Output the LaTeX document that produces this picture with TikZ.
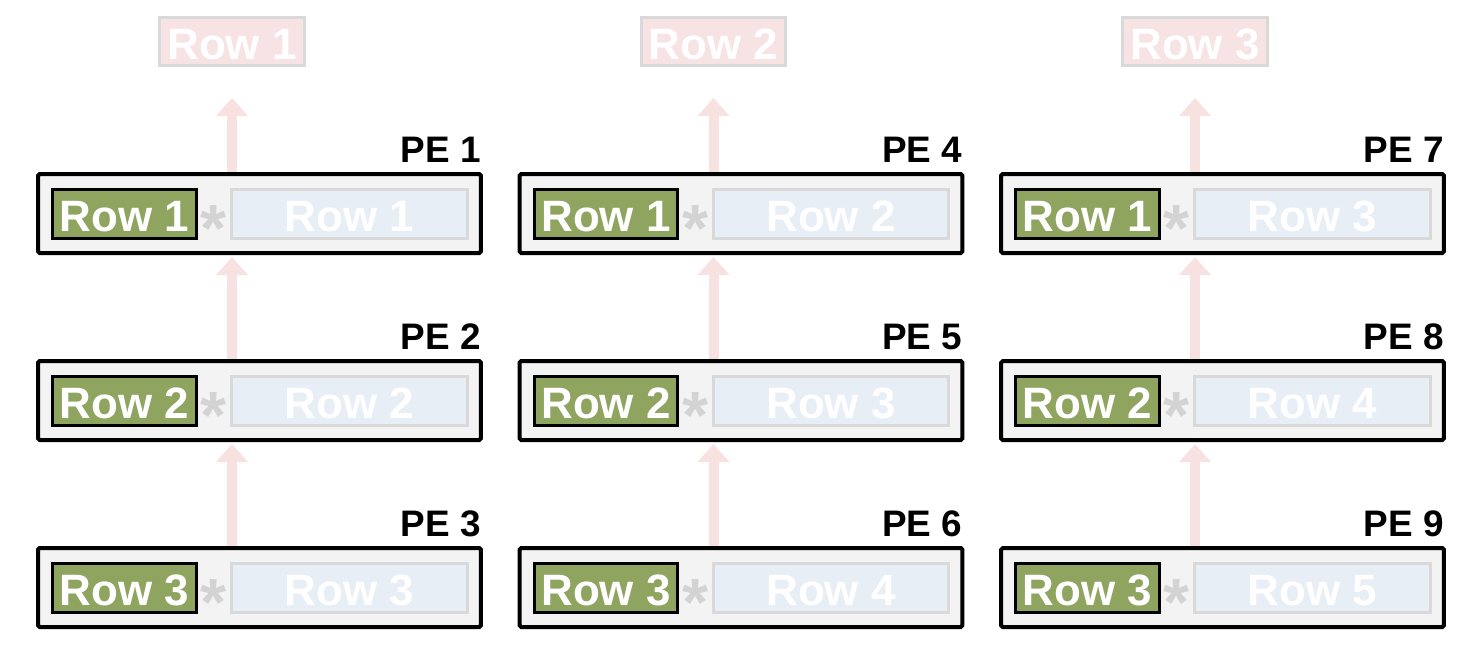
\documentclass[tikz,border=0pt]{standalone}
\usepackage{fontspec}
\setmainfont{Liberation Sans}
\usetikzlibrary{calc,arrows.meta}
\definecolor{pegray}{HTML}{F3F3F3}
\definecolor{rowgreen}{HTML}{8EA45F}
\definecolor{rowblue}{HTML}{E7EEF6}
\definecolor{rowred}{HTML}{F7E3E3}
\definecolor{edge}{HTML}{D9D9D9}
\definecolor{flow}{HTML}{F8E1E1}
\definecolor{star}{HTML}{D3D3D3}
\tikzset{
  pe/.style={draw=black, fill=pegray, line width=0.08cm, rounded corners=1pt,
    minimum width=8.86cm, minimum height=1.58cm, inner sep=0pt},
  rowtxt/.style={text=white, inner sep=0pt, text height=20.2pt, text depth=0pt,
    font=\fontsize{25}{25}\selectfont\bfseries},
  fixed/.style={rowtxt, draw=black, fill=rowgreen, line width=0.06cm,
    minimum width=2.88cm, minimum height=0.98cm},
  moving/.style={rowtxt, draw=edge, fill=rowblue, line width=0.06cm,
    minimum width=4.72cm, minimum height=0.98cm},
  result/.style={rowtxt, draw=edge, fill=rowred, line width=0.06cm,
    minimum width=2.9cm, minimum height=0.96cm},
  pelab/.style={inner sep=0pt, anchor=base east, font=\fontsize{21}{21}\selectfont\bfseries},
  times/.style={text=star, inner sep=0pt, anchor=base, font=\fontsize{38}{38}\selectfont\bfseries},
  flowarrow/.style={draw=flow, line width=0.2cm, -{Triangle[length=0.36cm, width=0.62cm]}},
}
\begin{document}
\begin{tikzpicture}[x=0.02cm, y=-0.02cm]
  \useasboundingbox (0,0) rectangle (1465,654);

  % one column per result row
  \foreach \c in {0,1,2} {
    \pgfmathsetmacro\cx{259.5+481.5*\c}
    \pgfmathtruncatemacro\rc{\c+1}
    \node[result] (r\rc) at (\cx-27.5,41.5) {Row \rc};
    \foreach \r in {1,2,3} {
      \pgfmathtruncatemacro\n{3*\c+\r}
      \pgfmathtruncatemacro\m{\c+\r}
      \pgfmathsetmacro\cy{213.5+187*(\r-1)}
      \node[pe] (pe\n) at (\cx,\cy) {};
      \node[fixed] (g\n) at ($(pe\n)+(-135,0.5)$) {Row \r};
      \node[times] (t\n) at ($(pe\n)+(-46,38)$) {*};
      \node[moving] (b\n) at ($(pe\n)+(90,0.5)$) {Row \m};
      \node[pelab] (l\n) at ($(pe\n.north east)+(-2,-10)$) {PE \n};
    }
  }

  % partial sums flow upwards
  \foreach \c in {1,2,3} {
    \pgfmathtruncatemacro\hi{3*\c-2}
    \pgfmathtruncatemacro\md{3*\c-1}
    \pgfmathtruncatemacro\lo{3*\c}
    \draw[flowarrow, shorten >=0.04cm] (r\c |- pe\lo.north) -- (r\c |- pe\md.south);
    \draw[flowarrow, shorten >=0.04cm] (r\c |- pe\md.north) -- (r\c |- pe\hi.south);
    \draw[flowarrow, shorten >=0.62cm] (r\c |- pe\hi.north) -- (r\c.south);
  }
\end{tikzpicture}
\end{document}
